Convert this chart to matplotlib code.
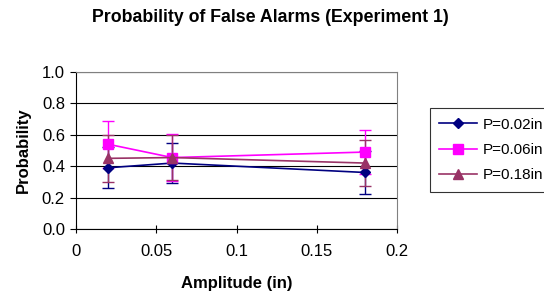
"""Probability of false alarms, experiment 1."""

import matplotlib

matplotlib.use("Agg")

import matplotlib.pyplot as plt
from matplotlib.lines import Line2D

amplitude = [0.02, 0.06, 0.18]

p002 = [0.39, 0.42, 0.36]
p002_err = [0.13, 0.13, 0.14]

p006 = [0.54, 0.455, 0.49]
p006_err = [0.15, 0.15, 0.14]

p018 = [0.45, 0.455, 0.42]
p018_err = [0.15, 0.145, 0.145]

labels = ["P=0.02in", "P=0.06in", "P=0.18in"]

SERIES = [
    (p002, p002_err, "#000080", "D", 5.5),
    (p006, p006_err, "#FF00FF", "s", 6.5),
    (p018, p018_err, "#993366", "^", 7.5),
]


def main() -> None:
    plt.rcParams["font.family"] = ["Liberation Sans", "DejaVu Sans"]
    fig = plt.figure(figsize=(5.44, 2.92), dpi=100)
    ax = fig.add_axes([76 / 544, 1 - 229 / 292, 321 / 544, 157 / 292])

    handles = []
    for (vals, err, color, marker, size), label in zip(SERIES, labels):
        ax.errorbar(amplitude, vals, yerr=err, color=color, marker=marker,
                    markersize=size, linewidth=1.2, elinewidth=1.0,
                    capsize=4, capthick=1.0)
        handles.append(Line2D([], [], color=color, marker=marker,
                              markersize=size, linewidth=1.2, label=label))

    ax.set_xlim(0, 0.2)
    ax.set_ylim(0, 1.0)
    ax.set_xticks([0, 0.05, 0.1, 0.15, 0.2])
    ax.set_xticklabels(["0", "0.05", "0.1", "0.15", "0.2"])
    ax.set_yticks([0, 0.2, 0.4, 0.6, 0.8, 1.0])
    ax.set_yticklabels(["0.0", "0.2", "0.4", "0.6", "0.8", "1.0"])
    ax.tick_params(labelsize=12, length=4, direction="out", pad=4)
    ax.tick_params(axis="x", direction="inout", length=6, pad=8)
    ax.grid(axis="y", color="black", linewidth=0.8)
    ax.set_axisbelow(True)

    for side in ("top", "right"):
        ax.spines[side].set_color("#808080")
    ax.spines["left"].set_color("black")
    ax.spines["bottom"].set_color("black")

    ax.set_xlabel("Amplitude (in)", fontsize=12, fontweight="bold", labelpad=12)
    ax.set_ylabel("Probability", fontsize=12, fontweight="bold", labelpad=8)
    fig.text(270 / 544, 1 - 18 / 292, "Probability of False Alarms (Experiment 1)",
             ha="center", va="center", fontsize=12.8, fontweight="bold")

    leg = fig.legend(handles=handles, loc="center left",
                     bbox_to_anchor=(430 / 544, 1 - 150 / 292),
                     fontsize=11, frameon=True, fancybox=False, borderpad=0.6,
                     handlelength=2.5, handletextpad=0.35, labelspacing=0.75,
                     borderaxespad=0)
    leg.get_frame().set_edgecolor("black")
    leg.get_frame().set_linewidth(0.8)

    fig.savefig("out.png", dpi=100)
    plt.close(fig)


if __name__ == "__main__":
    main()
